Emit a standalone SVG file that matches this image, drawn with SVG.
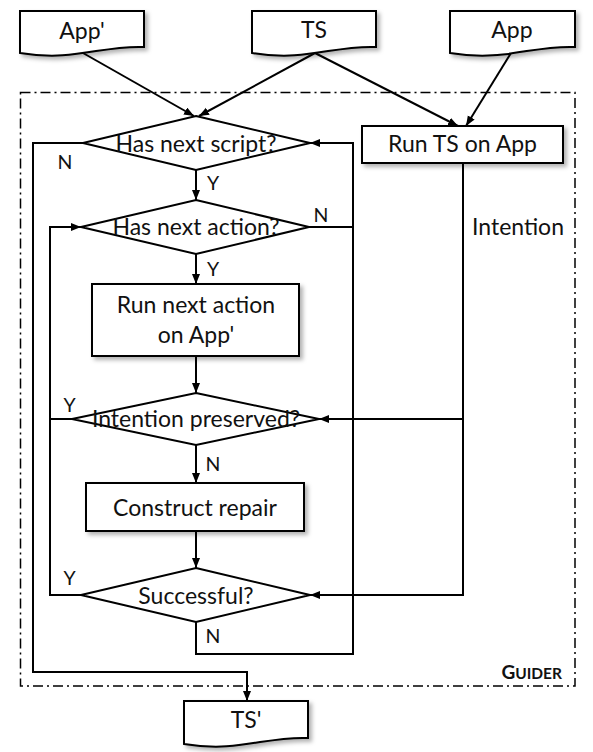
<svg xmlns="http://www.w3.org/2000/svg" width="593" height="752" viewBox="0 0 593 752">
<style>
  .shape { fill: #ffffff; stroke: #000000; stroke-width: 2; }
  .conn { fill: none; stroke: #000000; stroke-width: 2; }
  .lbl { font-family: Lato, "Open Sans", sans-serif; font-size: 23px; fill: #111111; text-anchor: middle; }
  .yn { font-family: Lato, "Open Sans", sans-serif; font-size: 19.5px; fill: #111111; text-anchor: middle; }
  .border { fill: none; stroke: #000000; stroke-width: 1.5; stroke-dasharray: 10 4 2 4; }
</style>
<defs>
  <filter id="sh" x="-10%" y="-10%" width="130%" height="140%">
    <feDropShadow dx="3" dy="3" stdDeviation="2.2" flood-color="#000000" flood-opacity="0.3"/>
  </filter>
  <marker id="arr" markerUnits="userSpaceOnUse" markerWidth="11" markerHeight="9" refX="10" refY="4" orient="auto">
    <path d="M0,0 L10,4 L0,8 Z" fill="#000000"/>
  </marker>
</defs>
<rect width="593" height="752" fill="#ffffff"/>

<g id="guider-frame">
  <rect class="border" x="20.5" y="92.5" width="554.5" height="593.5"/>
  <text x="562" y="679" font-family="Lato, 'Open Sans', sans-serif" font-weight="bold" fill="#111111" text-anchor="end"><tspan font-size="19">G</tspan><tspan font-size="15.5">UIDER</tspan></text>
</g>

<g id="connectors">
  <path class="conn" d="M83,53 L194,116" marker-end="url(#arr)"/>
  <path class="conn" d="M315,53 L199,116" marker-end="url(#arr)"/>
  <path class="conn" d="M315,53 L458,126" marker-end="url(#arr)"/>
  <path class="conn" d="M511,53 L466,126" marker-end="url(#arr)"/>
  <path class="conn" d="M196,170 L196,200" marker-end="url(#arr)"/>
  <path class="conn" d="M196,254 L196,284" marker-end="url(#arr)"/>
  <path class="conn" d="M196,356 L196,393" marker-end="url(#arr)"/>
  <path class="conn" d="M196,445 L196,483" marker-end="url(#arr)"/>
  <path class="conn" d="M196,531 L196,568" marker-end="url(#arr)"/>
  <path class="conn" d="M81,595 L50,595 L50,227 L81,227" marker-end="url(#arr)"/>
  <path class="conn" d="M72,419 L50,419"/>
  <path class="conn" d="M309,227 L353,227"/>
  <path class="conn" d="M196,622 L196,654 L353,654 L353,143 L310,143" marker-end="url(#arr)"/>
  <path class="conn" d="M83,143 L33,143 L33,672 L247,672 L247,701" marker-end="url(#arr)"/>
  <path class="conn" d="M463,163 L463,595 L310,595" marker-end="url(#arr)"/>
  <path class="conn" d="M463,419 L319,419" marker-end="url(#arr)"/>
  <text class="yn" x="65" y="168.5">N</text>
  <text class="yn" x="213" y="190">Y</text>
  <text class="yn" x="321" y="222">N</text>
  <text class="yn" x="213" y="276">Y</text>
  <text class="yn" x="69.5" y="412">Y</text>
  <text class="yn" x="213" y="471">N</text>
  <text class="yn" x="69.5" y="585">Y</text>
  <text class="yn" x="213" y="643">N</text>
  <text class="lbl" x="518" y="235">Intention</text>
</g>

<g id="app-prime">
  <path class="shape" filter="url(#sh)" d="M20,11 H144 V47 C100.6,45 75.8,62 20,53 Z"/>
  <text class="lbl" x="82" y="38.5">App'</text>
</g>
<g id="ts">
  <path class="shape" filter="url(#sh)" d="M252,11 H376 V47 C332.6,45 307.8,62 252,53 Z"/>
  <text class="lbl" x="314" y="38">TS</text>
</g>
<g id="app">
  <path class="shape" filter="url(#sh)" d="M450,11 H575 V47 C531.25,45 506.25,62 450,53 Z"/>
  <text class="lbl" x="512" y="38">App</text>
</g>

<g id="has-next-script">
  <path class="shape" d="M196,116 L310,143 L196,170 L83,143 Z"/>
  <text class="lbl" x="196" y="151.5">Has next script?</text>
</g>
<g id="run-ts-on-app">
  <rect class="shape" filter="url(#sh)" x="362" y="126" width="201" height="37"/>
  <text class="lbl" x="462.5" y="151.5">Run TS on App</text>
</g>
<g id="has-next-action">
  <path class="shape" d="M196,200 L309,227 L196,254 L81,227 Z"/>
  <text class="lbl" x="196" y="235">Has next action?</text>
</g>
<g id="run-next-action">
  <rect class="shape" filter="url(#sh)" x="92" y="284" width="207" height="72"/>
  <text class="lbl" x="196" y="313">Run next action</text>
  <text class="lbl" x="196" y="343">on App'</text>
</g>
<g id="intention-preserved">
  <path class="shape" d="M196,393 L319,419 L196,445 L72,419 Z"/>
  <text class="lbl" x="196" y="427" font-size="24">Intention preserved?</text>
</g>
<g id="construct-repair">
  <rect class="shape" filter="url(#sh)" x="86" y="483" width="218" height="48"/>
  <text class="lbl" x="195" y="516">Construct repair</text>
</g>
<g id="successful">
  <path class="shape" d="M196,568 L310,595 L196,622 L81,595 Z"/>
  <text class="lbl" x="196" y="604">Successful?</text>
</g>
<g id="ts-prime">
  <path class="shape" filter="url(#sh)" d="M184,701 H308 V738 C264.6,736 239.8,753 184,744 Z"/>
  <text class="lbl" x="246" y="728">TS'</text>
</g>
</svg>
